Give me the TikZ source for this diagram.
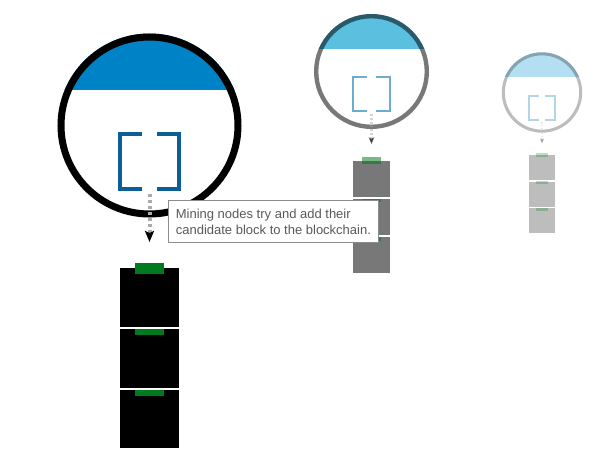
\documentclass[tikz,border=0pt]{standalone}
\usepackage{fontspec}
\setmainfont{Liberation Sans}
\usetikzlibrary{arrows.meta}
\definecolor{capbig}{RGB}{0,130,198}
\definecolor{capmid}{RGB}{91,191,224}
\definecolor{capsmall}{RGB}{180,222,241}
\definecolor{bracketbig}{RGB}{12,94,150}
\definecolor{bracketmid}{RGB}{106,173,208}
\definecolor{bracketsmall}{RGB}{178,213,231}
\definecolor{tabgreen}{RGB}{0,122,30}
\tikzset{
	note/.style={draw=black!45, fill=white, text=black!65, line width=0.8pt, font=\fontsize{13}{16}\selectfont, align=left, inner xsep=6pt, minimum width=210pt, minimum height=42pt},
	tab/.style={fill=tabgreen},
	gapline/.style={draw=white, opacity=1, line width=1.5pt}
}
% one miner: name, centre, scale, opacity, cap colour, bracket colour
\def\minerview[#1](#2)(#3:#4:#5:#6){
	\begin{scope}[shift={(#2)}, scale=#3, opacity=#4]
		\begin{scope}
			\clip (0, 0) circle (92);
			\fill[#5, opacity=1] (-95, -95) rectangle (95, -35.5);
		\end{scope}
		\draw[line width=#3*7pt] (0, 0) circle (88.5);
		\draw[#6, opacity=1, line width=#3*4pt] (-7.5, 8.5) -- (-29.5, 8.5) -- (-29.5, 63.5) -- (-7.5, 63.5);
		\draw[#6, opacity=1, line width=#3*4pt] (7.5, 8.5) -- (29.5, 8.5) -- (29.5, 63.5) -- (7.5, 63.5);
		\coordinate (#1 drop) at (0, 68.5);
		\coordinate (#1 chain) at (0, 116.5);
		\draw[black!33, line width=#3*4pt, dash pattern=on #3*3pt off #3*3pt, -{Stealth[length=11pt, width=9pt, inset=2pt, color=black, scale=#3]}] (#1 drop) -- (#1 chain);
		\fill (-29.5, 142.5) rectangle (29.5, 322.5);
		\draw[gapline] (-29.5, 202.5) -- (29.5, 202.5);
		\draw[gapline] (-29.5, 263.5) -- (29.5, 263.5);
		\fill[tab] (-14.5, 137.5) rectangle (14.5, 148.5);
		\fill[tab] (-14.5, 203.25) rectangle (14.5, 209.5);
		\fill[tab] (-14.5, 264.25) rectangle (14.5, 270.5);
	\end{scope}
}
\begin{document}
\begin{tikzpicture}[x=1pt, y=-1pt]
	\useasboundingbox (0, 0) rectangle (595, 463);
	
	\minerview[big](149.5, 125.5)(1:1:capbig:bracketbig)
	\minerview[mid](371.5, 71.5)(0.625:0.53:capmid:bracketmid)
	\minerview[small](542, 92.5)(0.437:0.26:capsmall:bracketsmall)
	
	\node[note, anchor=north west] (caption) at (168, 200) {Mining nodes try and add their\\candidate block to the blockchain.};
\end{tikzpicture}
\end{document}
